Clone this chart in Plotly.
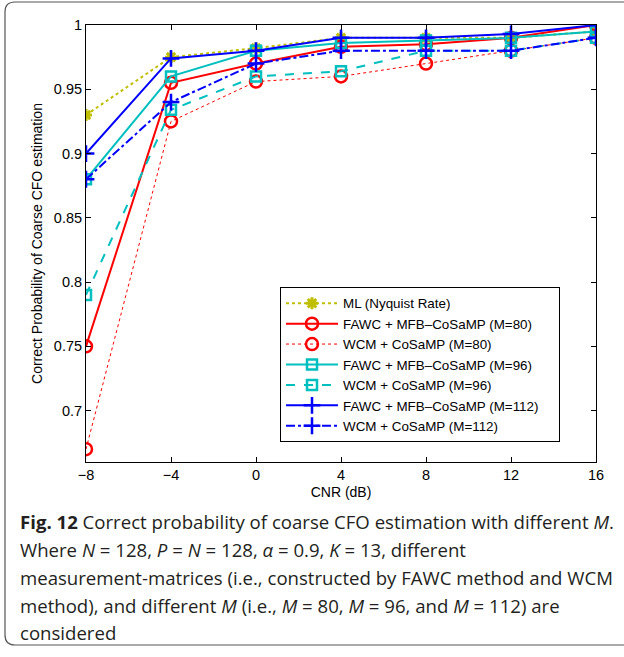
import plotly.graph_objects as go

cnr = [-8, -4, 0, 4, 8, 12, 16]
ml_nyquist = [0.93, 0.975, 0.982, 0.99, 0.99, 0.99, 0.995]
fawc_m80 = [0.75, 0.955, 0.97, 0.983, 0.985, 0.99, 1.0]
wcm_m80 = [0.67, 0.925, 0.956, 0.96, 0.97, 0.98, 0.99]
fawc_m96 = [0.88, 0.96, 0.98, 0.986, 0.988, 0.99, 0.995]
wcm_m96 = [0.79, 0.934, 0.96, 0.964, 0.98, 0.98, 0.99]
fawc_m112 = [0.90, 0.974, 0.98, 0.99, 0.99, 0.993, 1.0]
wcm_m112 = [0.88, 0.94, 0.97, 0.98, 0.98, 0.98, 0.99]

x_ticks = [-8, -4, 0, 4, 8, 12, 16]
x_ticktext = ["\u22128", "\u22124", "0", "4", "8", "12", "16"]
y_ticks = [0.7, 0.75, 0.8, 0.85, 0.9, 0.95, 1.0]
y_ticktext = ["0.7", "0.75", "0.8", "0.85", "0.9", "0.95", "1"]

YEL = "#bfbf00"
CYN = "#00bfbf"
RED = "#ff0000"
BLU = "#0000ff"

series = [
    ("ML (Nyquist Rate)", ml_nyquist, YEL, "dot", "asterisk-open", 10, 2),
    ("FAWC + MFB\u2013CoSaMP (M=80)", fawc_m80, RED, "solid", "circle-open", 12, 2),
    ("WCM + CoSaMP (M=80)", wcm_m80, RED, "dot", "circle-open", 12, 1),
    ("FAWC + MFB\u2013CoSaMP (M=96)", fawc_m96, CYN, "solid", "square-open", 10, 2),
    ("WCM + CoSaMP (M=96)", wcm_m96, CYN, "dash", "square-open", 10, 2),
    ("FAWC + MFB\u2013CoSaMP (M=112)\u00a0\u00a0\u00a0\u00a0", fawc_m112, BLU, "solid", "cross-thin-open", 12, 2),
    ("WCM + CoSaMP (M=112)", wcm_m112, BLU, "dashdot", "cross-thin-open", 12, 2),
]

fig = go.Figure()
for name, ys, col, dash, sym, size, lw in series:
    fig.add_trace(go.Scatter(
        x=cnr, y=ys, name=name, mode="lines+markers",
        line=dict(color=col, width=lw, dash=dash),
        marker=dict(symbol=sym, size=size, color=col,
                    line=dict(color=col, width=3 if sym.startswith("asterisk") else 2.5)),
    ))

W, H = 624, 657
L, R, T, B = 86, 596, 25, 462

def px(xp):
    return (xp - L) / (R - L)

def py(yp):
    return (B - yp) / (B - T)

# caption frame (rounded), extends beyond right edge
x0, x1, y0, y1, rr = 5, 640, 2, 645, 10
path = (f"M {px(x1)},{py(y0)} L {px(x0+rr)},{py(y0)} "
        f"Q {px(x0)},{py(y0)} {px(x0)},{py(y0+rr)} "
        f"L {px(x0)},{py(y1-rr)} "
        f"Q {px(x0)},{py(y1)} {px(x0+rr)},{py(y1)} "
        f"L {px(x1)},{py(y1)}")

cap_font = dict(family="Open Sans", size=18.6, color="#231f20")
lines = [
    "<b>Fig. 12</b> Correct probability of coarse CFO estimation with different <i>M</i>.",
    "Where <i>N</i> = 128, <i>P</i> = <i>N</i> = 128, <i>\u03b1</i> = 0.9, <i>K</i> = 13, different",
    "measurement-matrices (i.e., constructed by FAWC method and WCM",
    "method), and different <i>M</i> (i.e., <i>M</i> = 80, <i>M</i> = 96, and <i>M</i> = 112) are",
    "considered",
]
line_y = [521, 549, 577, 605, 632]
annotations = []
for t, yy in zip(lines, line_y):
    annotations.append(dict(
        text=t, xref="paper", yref="paper", x=px(18), y=py(yy),
        xanchor="left", yanchor="middle", showarrow=False, font=cap_font,
    ))

AX_FONT = "Liberation Sans"

fig.update_layout(
    width=W, height=H,
    margin=dict(l=L, r=W - R, t=T, b=H - B),
    paper_bgcolor="white", plot_bgcolor="white",
    font=dict(family=AX_FONT, size=14, color="black"),
    showlegend=True,
    legend=dict(
        x=px(280), y=py(287), xanchor="left", yanchor="top",
        bgcolor="white", bordercolor="black", borderwidth=1,
        font=dict(family=AX_FONT, size=13.4, color="black"),
        tracegroupgap=0, itemwidth=52,
    ),
    xaxis=dict(
        range=[-8, 16], tickvals=x_ticks, ticktext=x_ticktext,
        showgrid=False, zeroline=False, showline=True, linecolor="black",
        linewidth=1, mirror="ticks", ticks="inside", ticklen=5,
        tickcolor="black",
        title=dict(text="CNR (dB)", font=dict(family=AX_FONT, size=14), standoff=4),
        tickfont=dict(family=AX_FONT, size=14.5),
    ),
    yaxis=dict(
        range=[0.66, 1.0], tickvals=y_ticks, ticktext=y_ticktext,
        showgrid=False, zeroline=False, showline=True, linecolor="black",
        linewidth=1, mirror="ticks", ticks="inside", ticklen=5,
        tickcolor="black",
        title=dict(text="Correct Probability of Coarse CFO estimation",
                   font=dict(family=AX_FONT, size=14), standoff=7),
        tickfont=dict(family=AX_FONT, size=14.5),
    ),
    shapes=[dict(type="path", path=path, xref="paper", yref="paper",
                 line=dict(color="#555555", width=1.2), layer="below")],
    annotations=annotations,
)

fig.write_html("out.html", config={"displayModeBar": False},
               post_script="document.body.style.margin='0';")
